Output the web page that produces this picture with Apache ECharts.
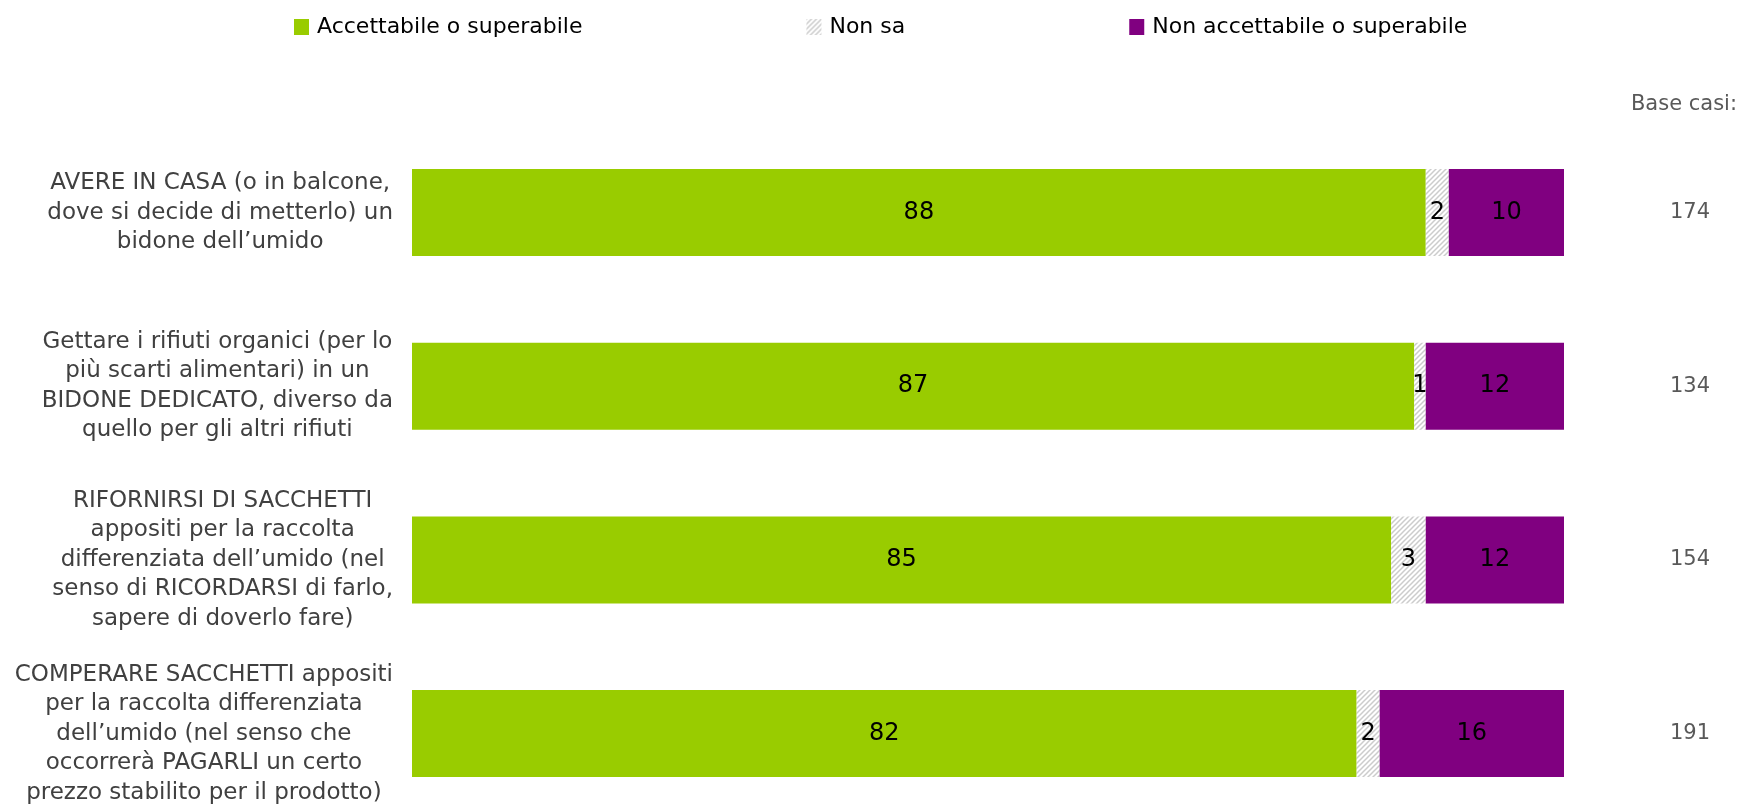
<!DOCTYPE html>
<html>
<head>
<meta charset="utf-8">
<script src="https://cdn.jsdelivr.net/npm/echarts@6/dist/echarts.min.js"></script>
<style>
html,body{margin:0;padding:0;background:#fff;}
#chart{width:1742px;height:805px;}
</style>
</head>
<body>
<div id="chart"></div>
<script>
const categories = [
  "AVERE IN CASA (o in balcone,\ndove si decide di metterlo) un\nbidone dell’umido",
  "Gettare i rifiuti organici (per lo\npiù scarti alimentari) in un\nBIDONE DEDICATO, diverso da\nquello per gli altri rifiuti",
  "RIFORNIRSI DI SACCHETTI\nappositi per la raccolta\ndifferenziata dell’umido (nel\nsenso di RICORDARSI di farlo,\nsapere di doverlo fare)",
  "COMPERARE SACCHETTI appositi\nper la raccolta differenziata\ndell’umido (nel senso che\noccorrerà PAGARLI un certo\nprezzo stabilito per il prodotto)"
];
const seriesNames = ["Accettabile o superabile", "Non sa", "Non accettabile o superabile"];
const accettabile = [88, 87, 85, 82];
const nonSa = [2, 1, 3, 2];
const nonAccettabile = [10, 12, 12, 16];
const baseCasi = ["174", "134", "154", "191"];
const baseTitle = "Base casi:";

// striped pattern for "Non sa"
const pc = document.createElement('canvas');
pc.width = 5; pc.height = 5;
const g = pc.getContext('2d');
g.fillStyle = '#ffffff'; g.fillRect(0,0,5,5);
g.strokeStyle = '#cccccc'; g.lineWidth = 1.5;
g.beginPath();
g.moveTo(-1,6); g.lineTo(6,-1);
g.moveTo(-6,6); g.lineTo(6,-6);
g.moveTo(-1,11); g.lineTo(11,-1);
g.stroke();
const stripe = {image: pc, repeat: 'repeat'};

const font = 'DejaVu Sans, Verdana, sans-serif';
const chart = echarts.init(document.getElementById('chart'), null, {renderer: 'canvas'});
const labelCfg = {show: true, position: 'inside', color: '#000', fontSize: 24, fontFamily: font};
chart.setOption({
  animation: false,
  textStyle: {fontFamily: font},
  title: {
    text: baseTitle, right: 0, top: 89,
    textStyle: {fontSize: 21, fontWeight: 'normal', color: '#595959', fontFamily: font}
  },
  legend: {
    data: seriesNames,
    left: 289, top: 11,
    itemWidth: 15, itemHeight: 16, itemGap: 224,
    icon: 'rect',
    textStyle: {fontSize: 22, color: '#000', fontFamily: font, padding: [0,0,0,3]}
  },
  grid: {left: 412, right: 178, top: 125.7, height: 694.7, containLabel: false, outerBoundsMode: 'none'},
  xAxis: {type: 'value', min: 0, max: 100, show: false},
  yAxis: [
    {
      type: 'category', data: categories, inverse: true, position: 'left',
      axisLine: {show: false}, axisTick: {show: false}, splitLine: {show: false},
      axisLabel: {
        align: 'right', margin: 19, fontSize: 23, lineHeight: 29.5, color: '#404040', fontFamily: font,
        formatter: v => v.split('\n').map(l => '{c|' + l + '}').join('\n'),
        rich: {c: {align: 'center', fontSize: 23, lineHeight: 29.5, color: '#404040', fontFamily: font}}
      }
    },
    {
      type: 'category', data: baseCasi, inverse: true, position: 'right',
      axisLine: {show: false}, axisTick: {show: false}, splitLine: {show: false},
      axisLabel: {align: 'center', margin: 126, fontSize: 21, color: '#595959', fontFamily: font}
    }
  ],
  series: [
    {name: seriesNames[0], type: 'bar', stack: 's', barWidth: 87, data: accettabile,
     itemStyle: {color: '#99cc00'}, label: labelCfg},
    {name: seriesNames[1], type: 'bar', stack: 's', barWidth: 87, data: nonSa,
     itemStyle: {color: stripe}, label: labelCfg},
    {name: seriesNames[2], type: 'bar', stack: 's', barWidth: 87, data: nonAccettabile,
     itemStyle: {color: '#800080'}, label: labelCfg}
  ]
});
</script>
</body>
</html>
